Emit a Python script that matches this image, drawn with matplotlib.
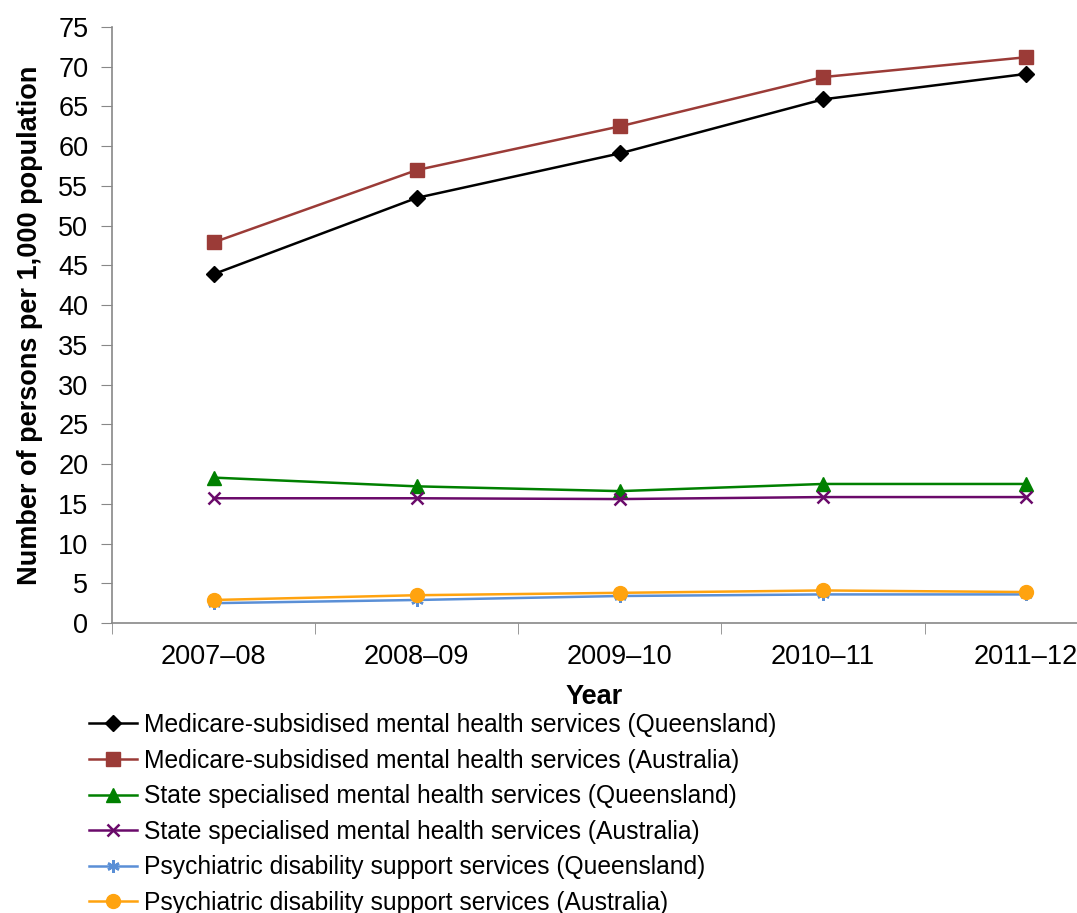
import numpy as np
import matplotlib
matplotlib.use("Agg")
import matplotlib.pyplot as plt

plt.rcParams['font.family'] = ['Liberation Sans', 'DejaVu Sans']

years = ["2007\u201308", "2008\u201309", "2009\u201310", "2010\u201311", "2011\u201312"]

medicare_qld = [43.9, 53.5, 59.1, 65.9, 69.1]
medicare_aus = [47.9, 57.0, 62.5, 68.7, 71.2]
state_qld = [18.3, 17.2, 16.6, 17.5, 17.5]
state_aus = [15.7, 15.7, 15.6, 15.85, 15.85]
psych_qld = [2.5, 2.9, 3.4, 3.6, 3.6]
psych_aus = [2.9, 3.5, 3.8, 4.1, 3.9]

labels = [
    "Medicare-subsidised mental health services (Queensland)",
    "Medicare-subsidised mental health services (Australia)",
    "State specialised mental health services (Queensland)",
    "State specialised mental health services (Australia)",
    "Psychiatric disability support services (Queensland)",
    "Psychiatric disability support services (Australia)",
]

fig = plt.figure(figsize=(10.77, 9.13), dpi=100)
ax = fig.add_axes([0.104, 0.3176, 0.896, 0.6528])

x = np.arange(len(years))
styles = [
    (medicare_qld, "#000000", "D", 8.5),
    (medicare_aus, "#9B3B37", "s", 10),
    (state_qld, "#008000", "^", 10),
    (state_aus, "#6A0A6A", "x", 9),
    (psych_qld, "#5A8FD6", (6, 2, 0), 9),
    (psych_aus, "#FFA30F", "o", 10),
]
handles = []
for (vals, col, mk, ms), lab in zip(styles, labels):
    kw = dict(markeredgewidth=1.8) if mk in ("x", (6, 2, 0)) else {}
    h, = ax.plot(x, vals, color=col, marker=mk, markersize=ms, linewidth=1.8, label=lab, **kw)
    handles.append(h)

ax.set_yticks(np.arange(0, 76, 5))
ax.set_xticks(x)
ax.set_xticklabels(years)
ax.set_xticks(np.arange(-0.5, 4.6, 1), minor=True)
ax.set_xlim(-0.5, 4.25)
ax.set_ylim(0, 75)
ax.tick_params(axis='x', which='major', length=0, labelsize=19.5, pad=15)
ax.tick_params(axis='x', which='minor', length=8, color="#888888")
ax.tick_params(axis='y', labelsize=19.5, length=8, pad=9, color="#888888")

for s in ["top", "right"]:
    ax.spines[s].set_visible(False)
for s in ["left", "bottom"]:
    ax.spines[s].set_color("#888888")
    ax.spines[s].set_linewidth(1.2)

ax.set_xlabel("Year", fontsize=19.5, fontweight="bold", labelpad=10)
ax.set_ylabel("Number of persons per 1,000 population", fontsize=19.5, fontweight="bold", labelpad=11)

fig.legend(handles=handles, loc="upper left", bbox_to_anchor=(0.0826, 0.219),
           frameon=False, fontsize=17.7, handlelength=1.95, handletextpad=0.28,
           labelspacing=0.47, borderaxespad=0, borderpad=0)

fig.savefig("out.png", dpi=100)
